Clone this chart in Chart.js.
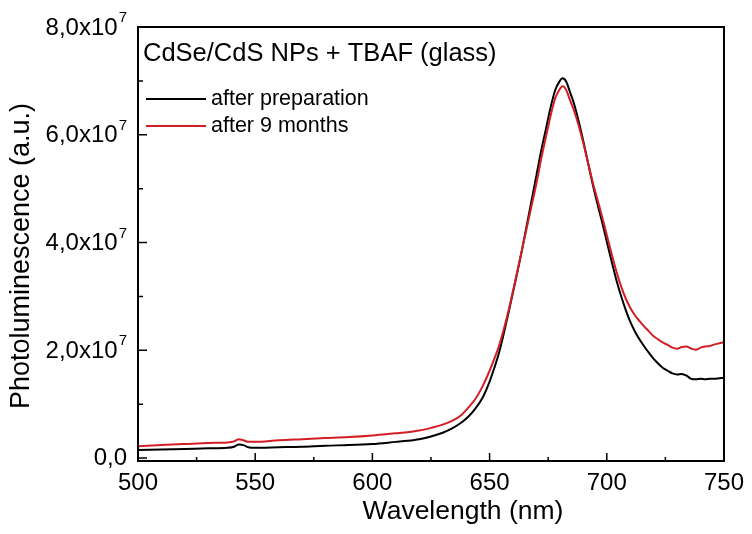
<!DOCTYPE html>
<html>
<head>
<meta charset="utf-8">
<script src="https://cdn.jsdelivr.net/npm/chart.js@4.4.0/dist/chart.umd.min.js"></script>
<style>
  html, body { margin: 0; padding: 0; background: #fff; }
  #wrap { width: 752px; height: 534px; position: relative; }
</style>
</head>
<body>
<div id="wrap"><canvas id="plChart"></canvas></div>
<script>
// PL spectra, intensity in units of 1e7
const wavelengths = [500, 510, 520, 530, 538, 541, 543, 545, 547, 550, 560, 570, 580, 590, 600, 610, 615, 620, 625, 630,
    634, 638, 641, 644, 647, 650, 652, 654, 656, 658, 660, 662, 664, 666, 668, 670, 672, 674, 676, 678,
    680, 681, 682, 683, 684, 686, 688, 690, 692, 694, 696, 698, 700, 702, 704, 706, 708, 710, 712, 714,
    716, 718, 720, 722, 724, 726, 728, 730, 732, 734, 736, 738, 740, 742, 744, 746, 748, 750];

const afterPreparation = [0.15, 0.16, 0.17, 0.18, 0.19, 0.21, 0.25, 0.24, 0.20, 0.19, 0.20, 0.21, 0.23, 0.24, 0.26, 0.30, 0.32, 0.35, 0.40, 0.47,
    0.55, 0.66, 0.77, 0.92, 1.12, 1.42, 1.67, 1.95, 2.30, 2.68, 3.08, 3.48, 3.90, 4.35, 4.80, 5.25, 5.70, 6.10, 6.50, 6.83,
    7.00, 7.05, 7.03, 6.96, 6.83, 6.58, 6.25, 5.88, 5.48, 5.08, 4.72, 4.38, 4.02, 3.66, 3.32, 3.02, 2.76, 2.53, 2.35, 2.20,
    2.07, 1.95, 1.84, 1.75, 1.67, 1.62, 1.57, 1.55, 1.56, 1.53, 1.47, 1.46, 1.47, 1.46, 1.47, 1.47, 1.48, 1.49];

const afterNineMonths = [0.22, 0.24, 0.26, 0.28, 0.29, 0.31, 0.35, 0.33, 0.30, 0.30, 0.33, 0.35, 0.37, 0.39, 0.42, 0.46, 0.48, 0.51, 0.56, 0.62,
    0.69, 0.80, 0.94, 1.10, 1.33, 1.62, 1.84, 2.08, 2.38, 2.72, 3.10, 3.50, 3.90, 4.30, 4.70, 5.10, 5.55, 5.95, 6.35, 6.68,
    6.85, 6.90, 6.88, 6.80, 6.68, 6.45, 6.17, 5.84, 5.48, 5.12, 4.80, 4.48, 4.14, 3.80, 3.48, 3.20, 2.97, 2.79, 2.65, 2.54,
    2.44, 2.35, 2.26, 2.20, 2.14, 2.10, 2.05, 2.03, 2.06, 2.07, 2.03, 2.01, 2.05, 2.07, 2.08, 2.11, 2.13, 2.15];

const xTicks = [500, 525, 550, 575, 600, 625, 650, 675, 700, 725, 750];
const yTicks = [0, 1, 2, 3, 4, 5, 6, 7, 8];
const seriesLabels = ["after preparation", "after 9 months"];
const chartTitle = "CdSe/CdS NPs + TBAF (glass)";
const xTitle = "Wavelength (nm)";
const yTitle = "Photoluminescence (a.u.)";

const FONT = "'Liberation Sans', Arial, sans-serif";
Chart.defaults.font.family = FONT;
Chart.defaults.color = '#000';

function toPoints(ys) {
    return wavelengths.map((w, i) => ({ x: w, y: ys[i] }));
}

// frame, inward ticks, y labels with superscript, axis titles, title and legend
const framePlugin = {
    id: 'frame',
    afterDraw(chart) {
        const ctx = chart.ctx;
        const a = chart.chartArea;
        const xs = chart.scales.x, ys = chart.scales.y;
        ctx.save();
        ctx.strokeStyle = '#000';
        ctx.lineWidth = 2;
        ctx.strokeRect(a.left, a.top, a.right - a.left, a.bottom - a.top);

        ctx.lineWidth = 1.5;
        ctx.beginPath();
        xs.ticks.forEach(t => {
            const px = xs.getPixelForValue(t.value);
            const len = t.value % 50 === 0 ? 8 : 4;
            ctx.moveTo(px, a.bottom);
            ctx.lineTo(px, a.bottom - len);
        });
        ys.ticks.forEach(t => {
            const py = ys.getPixelForValue(t.value);
            const len = t.value % 2 === 0 ? 9 : 5;
            ctx.moveTo(a.left, py);
            ctx.lineTo(a.left + len, py);
        });
        ctx.stroke();

        ctx.fillStyle = '#000';
        ctx.textBaseline = 'middle';

        // y tick labels: "N,0x10" + superscript 7
        const labelRight = a.left - 11;
        ys.ticks.forEach(t => {
            if (t.value % 2 !== 0) return;
            const py = ys.getPixelForValue(t.value);
            ctx.textAlign = 'right';
            if (t.value === 0) {
                ctx.font = '24px ' + FONT;
                ctx.fillText('0,0', labelRight, py);
                return;
            }
            ctx.font = '15px ' + FONT;
            const supW = ctx.measureText('7').width;
            ctx.fillText('7', labelRight, py - 9);
            ctx.font = '24px ' + FONT;
            ctx.fillText(t.value + ',0x10', labelRight - supW - 1, py + 1);
        });

        // axis titles
        ctx.textAlign = 'center';
        ctx.font = '26.5px ' + FONT;
        ctx.fillText(xTitle, 463, 512);
        ctx.save();
        ctx.translate(22, 256);
        ctx.rotate(-Math.PI / 2);
        ctx.font = '27px ' + FONT;
        ctx.fillText(yTitle, 0, 0);
        ctx.restore();

        // title and legend inside the plot
        ctx.textAlign = 'left';
        ctx.font = '25.5px ' + FONT;
        ctx.fillText(chartTitle, a.left + 5, a.top + 27);

        ctx.font = '21.5px ' + FONT;
        chart.data.datasets.forEach((ds, i) => {
            const y = a.top + 72 + i * 27;
            ctx.strokeStyle = ds.borderColor;
            ctx.lineWidth = 2;
            ctx.beginPath();
            ctx.moveTo(a.left + 8, y);
            ctx.lineTo(a.left + 68, y);
            ctx.stroke();
            ctx.fillText(ds.label, a.left + 73, y);
        });
        ctx.restore();
    }
};

const ctx = document.getElementById('plChart');
new Chart(ctx, {
    type: 'line',
    data: {
        datasets: [
            {
                label: seriesLabels[0],
                data: toPoints(afterPreparation),
                borderColor: '#000000',
                borderWidth: 2,
                pointRadius: 0,
                cubicInterpolationMode: 'monotone',
                order: 1,
            },
            {
                label: seriesLabels[1],
                data: toPoints(afterNineMonths),
                borderColor: '#d21f26',
                borderWidth: 2,
                pointRadius: 0,
                cubicInterpolationMode: 'monotone',
                order: 0,
            },
        ],
    },
    options: {
        responsive: true,
        maintainAspectRatio: false,
        animation: false,
        layout: { padding: { top: 27, right: 26, left: 0, bottom: 0 } },
        plugins: {
            legend: { display: false },
            tooltip: { enabled: false },
        },
        scales: {
            x: {
                type: 'linear',
                min: 500,
                max: 750,
                afterBuildTicks: (scale) => { scale.ticks = xTicks.map(v => ({ value: v })); },
                afterFit: (scale) => { scale.height = 73; },
                grid: { display: false, drawTicks: false },
                border: { display: false },
                ticks: {
                    padding: 8,
                    maxRotation: 0,
                    autoSkip: false,
                    font: { size: 24 },
                    callback: (v) => (v % 50 === 0 ? String(v) : ''),
                },
            },
            y: {
                type: 'linear',
                min: -0.055,
                max: 8,
                afterBuildTicks: (scale) => { scale.ticks = yTicks.map(v => ({ value: v })); },
                afterFit: (scale) => { scale.width = 138; },
                grid: { display: false, drawTicks: false },
                border: { display: false },
                ticks: { display: false },
            },
        },
    },
    plugins: [framePlugin],
});
</script>
</body>
</html>
